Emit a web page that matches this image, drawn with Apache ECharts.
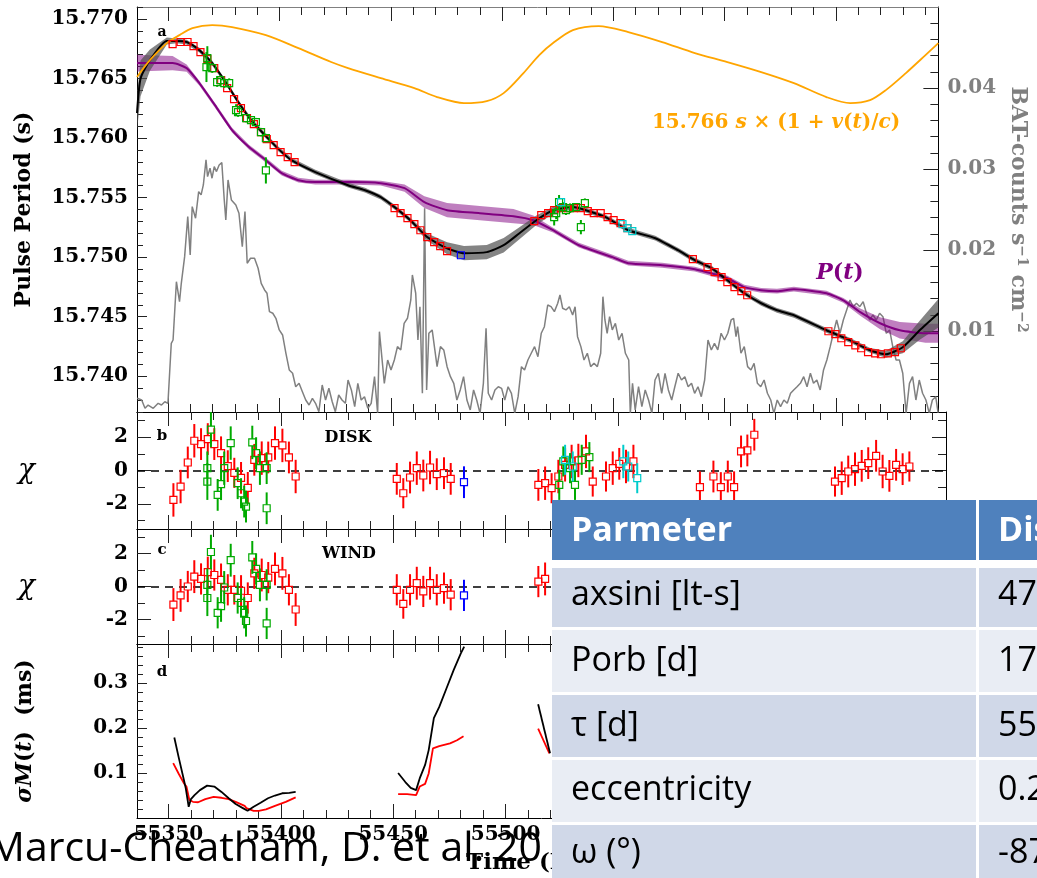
<!DOCTYPE html>
<html>
<head>
<meta charset="utf-8">
<script src="https://cdn.jsdelivr.net/npm/echarts@6/dist/echarts.min.js"></script>
<style>
  html, body { margin: 0; padding: 0; background: #fff; }
  #chart { width: 1037px; height: 878px; }
</style>
</head>
<body>
<div id="chart"></div>
<script>
// ---- tick labels ----
const timeLabels = [55350, 55400, 55450, 55500, 55550, 55600, 55650];
const periodLabels = [15.740, 15.745, 15.750, 15.755, 15.760, 15.765, 15.770];
const batLabels = [0.01, 0.02, 0.03, 0.04];
const chiLabels = [-2, 0, 2];
const sigmaLabels = [0.1, 0.2, 0.3];

// ---- panel a: pulse period (MJD, s) ----
const dopplerCurve = [[55336,15.76512],[55341.8,15.76654],[55349.4,15.76797],[55355.1,15.76864],[55360.9,15.76923],[55369.8,15.76948],[55378.7,15.76932],[55393.9,15.76864],[55408.5,15.76755],[55423.2,15.76638],[55430.8,15.76587],[55445.5,15.76503],[55460.6,15.76419],[55470.8,15.76344],[55482.9,15.76293],[55493.1,15.7631],[55500.7,15.76377],[55509.6,15.76545],[55516.7,15.76696],[55522.9,15.76797],[55531.8,15.76906],[55543.4,15.7694],[55556.7,15.7689],[55571.9,15.76806],[55586.6,15.76713],[55601.2,15.76638],[55616.4,15.76554],[55631.1,15.76461],[55645.7,15.76344],[55656.4,15.76293],[55665.3,15.76318],[55672.4,15.76402],[55681.4,15.76545],[55690.2,15.76696],[55696,15.76797]];

// [MJD, period, band half-width]
const intrinsicPeriod = [[55336,15.76629,0.0007],[55352,15.76629,0.0006],[55358.3,15.76587,0.0003],[55364,15.76461,0.0002],[55371.6,15.7626,0.0002],[55378.7,15.76066,0.0002],[55386.3,15.75924,0.0002],[55393.9,15.75814,0.0002],[55401,15.75705,0.0002],[55408.5,15.75646,0.0002],[55416.1,15.7563,0.0002],[55430.8,15.7563,0.0002],[55445.5,15.75621,0.0002],[55456.2,15.75579,0.0003],[55465.1,15.75462,0.0005],[55475.3,15.75394,0.0006],[55490,15.75369,0.0006],[55505.1,15.75344,0.0006],[55514,15.7531,0.0004],[55522.9,15.75226,0.0002],[55534.5,15.751,0.0002],[55549.6,15.75,0.0002],[55556.7,15.74949,0.0002],[55571.9,15.74932,0.0002],[55586.6,15.74899,0.0002],[55601.2,15.74823,0.0002],[55608.8,15.74748,0.0002],[55616.4,15.74722,0.0002],[55623.5,15.74714,0.0002],[55631.1,15.74731,0.0002],[55645.7,15.74697,0.0002],[55653.3,15.74638,0.0002],[55660.9,15.74538,0.0003],[55669.8,15.74445,0.0005],[55678.7,15.74386,0.0007],[55690.2,15.74361,0.0008],[55696,15.74361,0.0008]];

const observedModel = [[55336,15.7621,0.0015],[55337.6,15.765,0.0015],[55341.8,15.76654,0.0009],[55349.4,15.76815,0.0003],[55353.8,15.76815,0.0002],[55358.3,15.76806,0.0002],[55364,15.76738,0.0002],[55369.8,15.76629,0.0002],[55376.1,15.76461,0.0002],[55381.8,15.76293,0.0002],[55387.6,15.76142,0.0002],[55393.9,15.76016,0.0002],[55399.6,15.75907,0.0002],[55405.4,15.75814,0.0002],[55416.1,15.75714,0.0002],[55430.8,15.75604,0.0002],[55438.4,15.75562,0.0002],[55445.5,15.75504,0.0002],[55451.7,15.7542,0.0002],[55458.8,15.7531,0.0002],[55466.4,15.75168,0.0003],[55475.3,15.75075,0.0005],[55482.9,15.75033,0.0006],[55493.1,15.75042,0.0006],[55500.7,15.751,0.0006],[55507.8,15.75201,0.0005],[55515.4,15.7531,0.0004],[55522.9,15.75394,0.0003],[55531.8,15.7542,0.0002],[55537.6,15.75394,0.0002],[55546.5,15.75336,0.0002],[55556.7,15.75226,0.0002],[55568.8,15.75159,0.0002],[55579,15.75058,0.0002],[55586.6,15.74974,0.0002],[55594.1,15.74907,0.0002],[55601.2,15.74806,0.0002],[55608.8,15.74697,0.0002],[55616.4,15.74613,0.0002],[55623.5,15.74554,0.0002],[55631.1,15.74512,0.0002],[55645.7,15.74386,0.0002],[55656.4,15.74302,0.0002],[55665.3,15.74218,0.0002],[55672.4,15.74185,0.0003],[55680,15.74244,0.0005],[55687.6,15.74386,0.0008],[55696,15.74529,0.0012]];

const periodRed = [[55352.0,15.76789],[55355.6,15.76806],[55358.7,15.76806],[55361.4,15.76772],[55364.5,15.76722],[55367.6,15.76663],[55370.7,15.76587],[55373.8,15.76486],[55376.5,15.76419],[55379.6,15.76327],[55382.7,15.76251],[55385.4,15.76167],[55388.5,15.76117],[55391.7,15.7605],[55394.3,15.75991],[55397.4,15.7594],[55400.5,15.75882],[55403.7,15.7584],[55406.8,15.75798],[55451.7,15.75411],[55454.4,15.75369],[55457.5,15.75327],[55460.6,15.75277],[55463.3,15.75226],[55466.4,15.75168],[55469.5,15.75126],[55472.2,15.75092],[55475.3,15.7505],[55514.5,15.75302],[55517.6,15.75352],[55520.7,15.75369],[55523.4,15.75394],[55526.5,15.75411],[55529.6,15.75411],[55532.3,15.75411],[55535.4,15.75411],[55538.5,15.75386],[55541.2,15.75369],[55544.3,15.75369],[55547.4,15.75336],[55550.1,15.7531],[55553.2,15.75285],[55556.3,15.75243],[55585.7,15.74983],[55592.3,15.74916],[55595.5,15.74874],[55598.6,15.74832],[55601.2,15.7479],[55604.4,15.74748],[55607.5,15.74714],[55610.1,15.7468],[55646.6,15.74378],[55649.7,15.74353],[55652.4,15.74319],[55655.5,15.74286],[55658.7,15.7426],[55661.3,15.74235],[55664.4,15.74202],[55667.6,15.74193],[55670.2,15.74185],[55673.3,15.74193],[55676.5,15.74202],[55679.1,15.74235]];
const periodGreen = [[55367.6,15.76671,0.001],[55367.2,15.76596,0.00126],[55369.8,15.76587,0.0004],[55372.0,15.7647,0.0004],[55373.4,15.76486,0.0004],[55375.2,15.76461,0.0004],[55377.4,15.76461,0.0004],[55380.5,15.76234,0.0005],[55381.4,15.76218,0.0004],[55385.0,15.76167,0.00035],[55387.2,15.7615,0.00035],[55389.4,15.76134,0.00035],[55391.7,15.7605,0.00035],[55393.9,15.76,0.00035],[55393.9,15.75728,0.0011],[55523.4,15.75336,0.0007],[55524.3,15.75369,0.0005],[55525.6,15.75462,0.0006],[55527.4,15.7542,0.0004],[55528.7,15.75394,0.0004],[55530.5,15.75411,0.0004],[55533.2,15.7542,0.0003],[55535.4,15.75252,0.0006],[55537.2,15.75453,0.0004]];
const periodCyan = [[55526.5,15.75462,0.0003],[55554.1,15.75277,0.0001],[55556.3,15.75243,0.0001],[55558.5,15.75218,0.0001]];
const periodBlue = [[55481.5,15.75016,0.0001]];

// Swift/BAT light curve [MJD, counts s^-1 cm^-2]
const batCounts = [[55336.1,.00169],[55338.1,.00148],[55339.6,.00046],[55341.0,.00086],[55343.3,.00046],[55345.5,.00107],[55347.0,.00086],[55348.5,.00127],[55349.9,.00107],[55351.4,.00848],[55352.2,.00889],[55353.7,.01609],[55355.1,.01362],[55355.9,.01589],[55357.4,.01918],[55358.8,.02412],[55359.9,.01939],[55360.8,.02536],[55362.3,.02392],[55363.7,.02721],[55364.8,.0268],[55365.8,.02803],[55367.0,.03112],[55367.7,.02906],[55368.8,.0301],[55369.7,.02886],[55370.7,.0303],[55371.7,.02968],[55372.9,.0305],[55374.1,.03079],[55375.2,.02618],[55375.9,.02371],[55376.9,.02865],[55378.4,.02618],[55380.4,.02556],[55381.8,.02454],[55383.3,.02041],[55384.5,.02474],[55385.5,.01836],[55387.0,.01898],[55388.8,.01898],[55390.4,.01775],[55391.8,.01589],[55393.3,.01507],[55394.4,.01466],[55395.5,.01239],[55397.0,.01219],[55398.4,.01157],[55399.9,.01013],[55401.4,.00951],[55402.9,.00725],[55404.4,.00519],[55405.9,.00478],[55407.3,.00312],[55408.8,.00354],[55410.3,.00251],[55411.8,.00148],[55413.3,.00086],[55414.8,.00169],[55416.2,.00107],[55417.7,.00004],[55419.2,.00333],[55420.7,.00148],[55422.2,.00293],[55423.7,.00127],[55425.1,.00004],[55426.6,.0021],[55428.1,.00148],[55429.6,.00107],
[55430.8,.00395],[55432.3,.00272],[55433.8,.00066],[55435.2,.00354],[55436.7,.00148],[55438.2,.00189],[55439.7,.00046],[55441.2,.00107],[55442.7,.00436],[55444.1,-.00016],[55444.9,.00992],[55446.4,.0056],[55447.1,.00354],[55448.6,.00642],[55450.1,.00519],[55451.6,.00642],[55453.0,.00807],[55454.5,.00766],[55456.0,.01095],[55457.5,.01157],[55459.0,.01383],[55459.7,.01692],[55461.2,.01466],[55462.2,.00889],[55463.1,.013],[55464.2,.00231],[55465.2,.02515],[55466.1,.00272],[55467.1,.00972],[55468.6,.01013],[55469.6,.00807],[55470.8,.0056],[55472.3,.00807],[55473.8,.00766],[55475.3,.0056],[55476.8,.00436],[55478.3,.00354],[55479.7,.00148],[55481.2,.00272],[55482.7,.00436],[55484.2,.00148],[55485.7,.00025],[55487.2,.00272],[55488.6,.00148],[55490.1,-.00016],[55491.6,.00354],[55492.8,.01034],[55493.8,.00231],[55495.3,.00148],[55496.8,.00272],[55498.3,.00312],[55499.8,.00292],[55501.2,.00148],[55502.7,.00312],[55504.2,.00231],[55505.7,-.00016],[55507.2,.00189],[55508.7,.0056],[55510.1,.00519],[55511.6,.00642],[55513.1,.00725],[55514.6,.00807],[55516.1,.00683],[55517.6,.00972],[55519.0,.01053],[55520.5,.01321],[55522.0,.013],[55523.5,.01239],[55525.0,.01342],[55526.0,.01445],[55527.2,.01281],[55528.7,.0126],[55530.2,.013],[55531.7,.01198],[55532.8,.013],[55533.9,.0093],[55535.4,.00807],[55536.8,.00642],[55538.3,.00725],[55539.8,.0056],[55541.3,.00601],[55542.8,.0056],[55544.3,.00725],[55545.3,.01424],[55546.2,.01136],[55547.2,.00972],[55548.3,.01177],[55549.5,.01013],[55550.9,.01095],[55552.4,.00889],[55553.9,.00972],[55555.4,.00725],[55556.9,.00642],[55557.6,-.00016],[55558.6,.00354],[55559.8,.00025],[55561.3,.00312],[55562.8,.00066],[55564.3,.00272],[55565.8,.00148],[55567.3,-.00016],[55568.7,.00395],[55570.2,.00478],[55571.7,.00231],[55573.2,.00478],[55574.7,.00272],[55576.2,.00148],[55577.6,.00312],[55579.1,.00478],[55580.6,.00395],[55582.1,.00436],[55583.6,.00312],[55585.1,.00354],
[55586.5,.00231],[55588.0,.00312],[55589.5,.00189],[55591.0,.00395],[55592.5,.00889],[55594.0,.00766],[55595.4,.00848],[55596.9,.00766],[55598.4,.00972],[55599.9,.00889],[55601.4,.00972],[55602.9,.01136],[55604.0,.01157],[55605.1,.0093],[55605.8,.01053],[55607.3,.00725],[55608.8,.00807],[55610.3,.0056],[55611.8,.00519],[55613.2,.00601],[55614.7,.00354],[55616.2,.00312],[55617.7,.00395],[55619.2,.00231],[55620.7,.00148],[55622.1,-.00016],[55623.6,.00148],[55625.1,.00066],[55626.6,.00148],[55628.1,.00107],[55629.6,.00231],[55631.0,.00272],[55632.5,.00312],[55634.0,.00354],[55635.5,.00436],[55637.0,.00312],[55638.5,.00478],[55639.9,.00354],[55641.4,.00395],[55642.9,.00272],[55644.4,.00519],[55645.9,.00642],[55647.4,.00807],[55648.8,.00972],[55650.3,.01136],[55651.8,.00972],[55653.3,.01136],[55654.8,.0126],[55656.3,.01383],[55657.7,.013],[55659.2,.01342],[55660.7,.013],[55662.2,.01362],[55663.7,.01219],[55665.2,.01136],[55666.6,.01198],[55668.1,.01136],[55669.6,.01219],[55671.1,.01177],[55672.6,.00972],[55674.1,.01013],[55675.5,.00807],[55677.0,.00642],[55678.5,.00642],[55680.0,.00478],[55681.5,-.00016],[55683.0,.00354],[55684.4,.00436],[55685.9,.00148],[55687.4,.00395],[55688.9,.00231],[55690.4,.00148],[55691.9,-.00016],[55693.3,.00148],[55694.8,.00189],[55695.9,-.00016]];

// ---- panel b: residuals, disk model [MJD, chi, error] ----
const diskRed = [[55352.2,-1.76,1.0],[55355.4,-0.96,1.0],[55358.6,0.48,0.95],[55361.5,1.78,1.0],[55364.5,1.58,0.95],[55367.5,1.88,0.95],[55370.4,1.58,0.95],[55373.4,1.04,1.0],[55376.4,0.26,0.95],[55379.3,-0.14,0.9],[55382.3,-0.44,0.95],[55385.3,-1.04,0.95],[55388.2,0.64,0.95],[55391.5,0.74,1.0],[55394.4,0.78,0.95],[55397.4,1.64,1.0],[55400.7,1.5,1.0],[55403.6,0.78,0.95],[55406.6,-0.36,1.0],[55451.6,-0.5,0.95],[55454.5,-1.36,0.9],[55457.5,-0.42,0.95],[55460.5,0.14,1.0],[55463.4,-0.3,0.95],[55466.4,0.18,1.0],[55469.4,-0.22,0.95],[55472.6,-0.16,0.95],[55475.6,-0.5,0.95],[55514.6,-0.86,0.95],[55517.6,-0.76,1.0],[55520.5,-1.06,0.9],[55523.5,-0.36,1.0],[55526.5,0.34,1.0],[55529.4,0.54,1.0],[55532.4,0.6,1.0],[55535.8,1.14,1.0],[55538.8,-0.66,0.9],[55544.7,-0.36,0.9],[55547.7,0.14,1.0],[55550.6,0.4,0.95],[55553.6,0.24,1.0],[55556.9,0.54,1.0],[55586.5,-1.0,0.95],[55592.5,-0.36,0.95],[55595.8,-1.0,0.9],[55598.9,-0.36,0.95],[55601.7,-1.0,0.95],[55604.8,1.14,0.95],[55607.6,1.2,0.95],[55610.7,2.14,0.95],[55646.6,-0.66,0.9],[55649.6,-0.46,1.0],[55652.5,-0.06,0.95],[55655.5,0.08,1.0],[55658.5,0.28,0.95],[55661.4,0.44,0.95],[55664.9,0.88,0.95],[55667.8,-0.06,1.0],[55670.8,-0.32,0.95],[55673.8,0.34,0.95],[55676.7,0.08,0.95],[55679.7,0.24,0.9]];
const diskGreen = [[55367.3,0.14,1.0],[55367.3,-0.66,1.1],[55368.9,2.44,1.05],[55371.9,-1.46,0.95],[55373.4,-0.82,0.95],[55374.8,0.14,1.0],[55377.7,1.64,1.0],[55380.8,-0.76,0.95],[55382.3,-1.36,0.9],[55383.7,-1.86,0.95],[55384.5,-2.16,0.95],[55387.3,1.68,1.0],[55389.0,1.04,0.95],[55390.7,0.14,1.0],[55393.7,0.14,0.95],[55393.7,-2.26,0.95],[55523.9,-0.86,0.9],[55525.7,0.54,0.9],[55528.7,0.14,0.9],[55530.9,-0.86,0.9],[55533.9,0.64,0.9],[55537.3,0.8,0.9]];
const diskCyan = [[55526.5,0.64,0.9],[55529.9,0.24,0.9],[55552.4,0.54,1.0],[55554.6,0.24,0.9],[55558.6,-0.46,0.9]];
const diskBlue = [[55481.5,-0.7,0.95]];

// ---- panel c: residuals, wind model ----
const windRed = [[55352.2,-1.1,1.0],[55355.4,-0.54,1.0],[55358.6,0,0.95],[55361.5,0.6,1.0],[55364.5,0.46,0.95],[55367.5,0.87,0.95],[55370.4,0.7,0.95],[55373.4,0.4,1.0],[55376.4,-0.2,0.95],[55379.3,-0.2,0.9],[55382.3,-0.26,0.95],[55385.3,-0.7,0.95],[55388.2,0.8,0.95],[55391.5,0.7,1.0],[55394.4,0.54,0.95],[55397.4,1.07,1.0],[55400.7,0.8,1.0],[55403.6,-0.2,0.95],[55406.6,-1.4,1.0],[55451.6,-0.2,0.95],[55454.5,-1.06,0.9],[55457.5,-0.2,0.95],[55460.5,0.2,1.0],[55463.4,-0.3,0.95],[55466.4,0.2,1.0],[55469.4,-0.2,0.95],[55472.6,-0.1,0.95],[55475.6,-0.5,0.95],[55514.6,0.3,0.95],[55517.6,0.46,1.0]];
const windGreen = [[55367.3,0.1,1.0],[55367.3,-0.7,1.1],[55368.9,2.1,1.05],[55371.9,-1.6,0.95],[55373.4,-1.2,0.95],[55374.8,-0.06,1.0],[55377.7,1.6,1.0],[55380.8,-0.7,0.95],[55382.3,-1.0,0.9],[55383.7,-1.6,0.95],[55384.5,-2.1,0.95],[55387.3,1.77,1.0],[55389.0,1.07,0.95],[55390.7,0.1,1.0],[55393.7,0.1,0.95],[55393.7,-2.25,0.95]];
const windBlue = [[55481.5,-0.54,0.95]];

// ---- panel d: sigma M(t) in ms ----
const sigmaBlack = [
  [[55352.6,0.179],[55354.5,0.136],[55356.9,0.084],[55357.7,0.066],[55359.0,0.025],[55360.0,0.042],[55361.6,0.051],[55364.0,0.062],[55367.2,0.072],[55370.4,0.07],[55373.6,0.058],[55376.8,0.044],[55379.9,0.031],[55383.1,0.022],[55385.2,0.016],[55387.9,0.025],[55391.0,0.034],[55394.3,0.044],[55397.4,0.05],[55400.6,0.055],[55403.8,0.056],[55406.6,0.058]],
  [[55452.2,0.1],[55455.4,0.08],[55457.8,0.067],[55460.2,0.062],[55461.8,0.088],[55464.2,0.118],[55465.8,0.151],[55468.1,0.222],[55470.5,0.247],[55473.7,0.288],[55476.9,0.329],[55480.1,0.366],[55481.6,0.381]],
  [[55514.5,0.253],[55519.8,0.144]]
];
const sigmaRed = [
  [[55352.1,0.122],[55354.5,0.099],[55356.9,0.077],[55358.0,0.07],[55359.3,0.04],[55360.9,0.036],[55363.2,0.035],[55366.4,0.042],[55370.1,0.047],[55373.6,0.045],[55376.8,0.042],[55379.9,0.036],[55383.9,0.027],[55384.7,0.022],[55387.9,0.016],[55390.2,0.016],[55393.4,0.019],[55397.4,0.027],[55402.2,0.036],[55406.6,0.046]],
  [[55452.2,0.053],[55456.2,0.053],[55460.2,0.051],[55461.8,0.07],[55464.2,0.076],[55465.8,0.099],[55467.7,0.155],[55470.5,0.16],[55475.3,0.166],[55478.4,0.173],[55481.3,0.182]],
  [[55514.5,0.199],[55519.5,0.144]]
];

// ---- table ----
const tableHeader = ['Parmeter', 'Disk'];
const tableParams = ['axsini [lt-s]', 'Porb [d]', 'τ [d]', 'eccentricity', 'ω (°)'];
const tableDisk = ['47', '17', '55', '0.2', '-87'];

// ---------------------------------------------------------------
const SERIF = "'DejaVu Serif', serif";
const SANS = "'Open Sans', sans-serif";
const X_MIN = 55336, X_MAX = 55696;
const GRID_TOPS = [7, 412, 529, 644];
const GRID_HEIGHTS = [405, 117, 115, 174];

function steps(from, to, step, skip) {
  const out = [];
  const n = Math.round((to - from) / step);
  for (let i = 0; i <= n; i++) {
    const v = +(from + i * step).toFixed(6);
    if (!skip || Math.abs(v / skip - Math.round(v / skip)) > 1e-6) out.push(v);
  }
  return out;
}
const timeMinor = steps(55360, 55690, 10, 50);
const periodMinor = steps(15.737, 15.771, 0.001, 0.005);
const batMinor = steps(0.002, 0.048, 0.002, 0.01);
const chiMinor = [-3, -1, 1, 3];
const sigmaMinor = steps(0.02, 0.38, 0.02, 0.1);

const labelFont = { fontFamily: SERIF, fontWeight: 'bold', fontSize: 20, color: '#000' };

function tickStyle(values, len) {
  return { show: true, inside: true, length: len, customValues: values, lineStyle: { color: '#222', width: 1 } };
}
function axisBase(extra) {
  return Object.assign({
    type: 'value',
    axisLine: { show: false, onZero: false },
    splitLine: { show: false },
    axisLabel: { show: false },
    axisTick: { show: false }
  }, extra);
}

const xAxes = [], yAxes = [];
GRID_TOPS.forEach(function (top, gi) {
  const last = gi === GRID_TOPS.length - 1;
  const main = axisBase({
    gridIndex: gi, position: 'bottom', min: X_MIN, max: X_MAX,
    axisLine: { show: true, onZero: false, lineStyle: { color: '#000', width: 1 } },
    axisTick: tickStyle(timeLabels, 14),
    axisLabel: last ? Object.assign({
      show: true, customValues: timeLabels, margin: 7,
      formatter: function (v) { return String(v); }
    }, labelFont) : { show: false }
  });
  if (last) {
    main.name = 'Time (MJD)';
    main.nameLocation = 'middle';
    main.nameGap = 34;
    main.nameTextStyle = { fontFamily: SERIF, fontWeight: 'bold', fontSize: 23, color: '#000' };
  }
  xAxes.push(main);
  xAxes.push(axisBase({
    gridIndex: gi, position: 'top', min: X_MIN, max: X_MAX,
    axisLine: { show: true, onZero: false, lineStyle: { color: gi === 0 ? '#808080' : '#000', width: 1 } },
    axisTick: tickStyle(timeLabels, 14)
  }));
  xAxes.push(axisBase({ gridIndex: gi, position: 'bottom', min: X_MIN, max: X_MAX, axisTick: tickStyle(timeMinor, 8) }));
  xAxes.push(axisBase({ gridIndex: gi, position: 'top', min: X_MIN, max: X_MAX, axisTick: tickStyle(timeMinor, 8) }));
});

function addY(gi, side, min, max, major, minor, lens, opts) {
  opts = opts || {};
  const ax = axisBase({
    gridIndex: gi, position: side, min: min, max: max,
    axisLine: { show: true, onZero: false, lineStyle: { color: '#000', width: 1 } },
    axisTick: tickStyle(major, lens[0]),
    axisLabel: opts.label ? Object.assign({ show: true, customValues: major, margin: 9 }, labelFont, opts.label) : { show: false }
  });
  if (opts.name) {
    ax.name = opts.name;
    ax.nameLocation = 'middle';
    ax.nameGap = opts.nameGap;
    if (opts.nameRotate !== undefined) ax.nameRotate = opts.nameRotate;
    ax.nameTextStyle = opts.nameTextStyle;
  }
  yAxes.push(ax);
  yAxes.push(axisBase({ gridIndex: gi, position: side, min: min, max: max, axisTick: tickStyle(minor, lens[1]) }));
}

const boldName = { fontFamily: SERIF, fontWeight: 'bold', fontSize: 22, color: '#000' };
// grid a
addY(0, 'left', 15.737, 15.771, periodLabels, periodMinor, [10, 6], {
  label: { formatter: function (v) { return v.toFixed(3); } },
  name: 'Pulse Period (s)', nameGap: 102, nameTextStyle: boldName
});
addY(0, 'right', 0, 0.05, batLabels, batMinor, [15, 8], {
  label: { color: '#808080', formatter: function (v) { return v.toFixed(2); } },
  name: 'BAT-counts s{sup|−1} cm{sup|−2}', nameGap: 66, nameRotate: -90,
  nameTextStyle: {
    fontFamily: SERIF, fontWeight: 'bold', fontSize: 22, color: '#808080',
    rich: { sup: { fontFamily: SERIF, fontWeight: 'bold', fontSize: 14, color: '#808080', verticalAlign: 'top', lineHeight: 22 } }
  }
});
// grids b and c
[1, 2].forEach(function (gi) {
  addY(gi, 'left', -3.5, 3.5, chiLabels, chiMinor, [14, 8], {
    label: { formatter: function (v) { return String(v); } },
    name: 'χ', nameGap: 102, nameRotate: 0,
    nameTextStyle: { fontFamily: SERIF, fontStyle: 'italic', fontSize: 28, color: '#000' }
  });
  addY(gi, 'right', -3.5, 3.5, chiLabels, chiMinor, [14, 8]);
});
// grid d
const nameRich = {
  i: { fontFamily: SERIF, fontWeight: 'bold', fontStyle: 'italic', fontSize: 22, color: '#000' },
  n: { fontFamily: SERIF, fontWeight: 'bold', fontSize: 22, color: '#000' }
};
addY(3, 'left', 0, 0.387, sigmaLabels, sigmaMinor, [10, 6], {
  label: { formatter: function (v) { return v.toFixed(1); } },
  name: '{i|σM}{n|(}{i|t}{n|)  (ms)}', nameGap: 101,
  nameTextStyle: { fontFamily: SERIF, fontWeight: 'bold', fontSize: 22, color: '#000', rich: nameRich }
});
addY(3, 'right', 0, 0.387, sigmaLabels, sigmaMinor, [10, 6]);

// ---- renderers ----
function errorBars(color) {
  return function (params, api) {
    const t = api.value(0), v = api.value(1), e = api.value(2);
    const c = api.coord([t, v]);
    const h = 3.5;
    const kids = [];
    if (e > 0) {
      const hi = api.coord([t, v + e])[1];
      const lo = api.coord([t, v - e])[1];
      if (c[1] - h > hi) kids.push({ type: 'line', shape: { x1: c[0], y1: hi, x2: c[0], y2: c[1] - h }, style: { stroke: color, lineWidth: 2 } });
      if (lo > c[1] + h) kids.push({ type: 'line', shape: { x1: c[0], y1: c[1] + h, x2: c[0], y2: lo }, style: { stroke: color, lineWidth: 2 } });
    }
    kids.push({ type: 'rect', shape: { x: c[0] - h, y: c[1] - h, width: 2 * h, height: 2 * h }, style: { fill: 'none', stroke: color, lineWidth: 1.2 } });
    return { type: 'group', children: kids };
  };
}
function band(points, color) {
  return function (params, api) {
    if (params.dataIndex !== 0) return null;
    const up = points.map(function (p) { return api.coord([p[0], p[1] + p[2]]); });
    const down = points.map(function (p) { return api.coord([p[0], p[1] - p[2]]); }).reverse();
    return { type: 'polygon', shape: { points: up.concat(down) }, style: { fill: color } };
  };
}
function points(gi, data, color, extra) {
  return Object.assign({
    type: 'custom', xAxisIndex: 4 * gi, yAxisIndex: 4 * gi, clip: true, z: 5,
    renderItem: errorBars(color), data: data
  }, extra || {});
}
function curve(gi, data, color, width, z, smooth) {
  return {
    type: 'line', xAxisIndex: 4 * gi, yAxisIndex: 4 * gi, data: data, showSymbol: false,
    smooth: smooth || false, clip: true, z: z, encode: { x: 0, y: 1 },
    lineStyle: { color: color, width: width }
  };
}

const series = [
  {
    type: 'line', xAxisIndex: 0, yAxisIndex: 2, data: batCounts, showSymbol: false, clip: true, z: 1,
    lineStyle: { color: '#808080', width: 1.5 }
  },
  { type: 'custom', xAxisIndex: 0, yAxisIndex: 0, clip: true, z: 2, data: intrinsicPeriod, renderItem: band(intrinsicPeriod, 'rgba(128,0,128,0.5)') },
  { type: 'custom', xAxisIndex: 0, yAxisIndex: 0, clip: true, z: 2, data: observedModel, renderItem: band(observedModel, 'rgba(80,80,80,0.7)') },
  curve(0, intrinsicPeriod, '#800080', 2, 3, 0.2),
  curve(0, observedModel, '#000', 2, 3, 0.2),
  curve(0, dopplerCurve, '#FFA500', 1.8, 3, 0.3),
  points(0, periodRed, '#FF0000'),
  points(0, periodGreen, '#00AA00'),
  points(0, periodCyan, '#00CCCC'),
  points(0, periodBlue, '#0000FF'),

  points(1, diskRed, '#FF0000', {
    markLine: { silent: true, symbol: 'none', label: { show: false }, lineStyle: { type: [8, 6], color: '#000', width: 1.5 }, data: [{ yAxis: 0 }] }
  }),
  points(1, diskGreen, '#00AA00'),
  points(1, diskCyan, '#00CCCC'),
  points(1, diskBlue, '#0000FF'),

  points(2, windRed, '#FF0000', {
    markLine: { silent: true, symbol: 'none', label: { show: false }, lineStyle: { type: [8, 6], color: '#000', width: 1.5 }, data: [{ yAxis: 0 }] }
  }),
  points(2, windGreen, '#00AA00'),
  points(2, windBlue, '#0000FF')
];
sigmaRed.forEach(function (seg) { series.push(curve(3, seg, '#FF0000', 1.8, 3)); });
sigmaBlack.forEach(function (seg) { series.push(curve(3, seg, '#000', 1.8, 4)); });

// ---- annotations, table, citation ----
function text(str, x, y, style, z) {
  return {
    type: 'text', x: x, y: y, z: z || 10, silent: true,
    style: Object.assign({ text: str, textAlign: 'center', align: 'center', textVerticalAlign: 'middle', verticalAlign: 'middle' }, style)
  };
}
const serifBold = function (size, color) { return { fontFamily: SERIF, fontWeight: 'bold', fontSize: size, fill: color || '#000' }; };
const orange = '#FFA500';
const ital = function (c) { return { fontFamily: SERIF, fontWeight: 'bold', fontStyle: 'italic', fontSize: 20, fill: c }; };
const upr = function (c) { return { fontFamily: SERIF, fontWeight: 'bold', fontSize: 20, fill: c }; };

const elements = [
  text('a', 162, 32, serifBold(14)),
  text('b', 162, 436, serifBold(15)),
  text('c', 162, 550, serifBold(15)),
  text('d', 162, 672, serifBold(15)),
  text('DISK', 348, 438, serifBold(16)),
  text('WIND', 349, 554, serifBold(16)),
  text('{u|15.766 }{i|s}{u| × (1 + }{i|v}{u|(}{i|t}{u|)/}{i|c}{u|)}', 776, 123,
    Object.assign(serifBold(20, orange), { rich: { u: upr(orange), i: ital(orange) } })),
  text('{i|P}{u|(}{i|t}{u|)}', 840, 273,
    Object.assign(serifBold(22, '#800080'), { rich: {
      u: { fontFamily: SERIF, fontWeight: 'bold', fontSize: 22, fill: '#800080' },
      i: { fontFamily: SERIF, fontWeight: 'bold', fontStyle: 'italic', fontSize: 22, fill: '#800080' } } }))
];

// table
const TBL = { x: 552, col2: 979, right: 1040, headerTop: 500, headerBottom: 560 };
const rowBands = [[568, 627], [630, 692], [695, 757], [760, 822], [825, 890]];
const rowTextY = [595, 661, 726, 790, 853];
const rowFill = ['#D0D8E8', '#E9EDF4', '#D0D8E8', '#E9EDF4', '#D0D8E8'];
elements.push({ type: 'rect', z: 100, silent: true, shape: { x: TBL.x, y: TBL.headerTop, width: 1037 - TBL.x, height: 878 - TBL.headerTop }, style: { fill: '#fff' } });
elements.push({ type: 'rect', z: 101, silent: true, shape: { x: TBL.x, y: TBL.headerTop, width: 976 - TBL.x, height: TBL.headerBottom - TBL.headerTop }, style: { fill: '#4F81BD' } });
elements.push({ type: 'rect', z: 101, silent: true, shape: { x: TBL.col2, y: TBL.headerTop, width: TBL.right - TBL.col2, height: TBL.headerBottom - TBL.headerTop }, style: { fill: '#4F81BD' } });
rowBands.forEach(function (r, i) {
  elements.push({ type: 'rect', z: 101, silent: true, shape: { x: TBL.x, y: r[0], width: 976 - TBL.x, height: r[1] - r[0] }, style: { fill: rowFill[i] } });
  elements.push({ type: 'rect', z: 101, silent: true, shape: { x: TBL.col2, y: r[0], width: TBL.right - TBL.col2, height: r[1] - r[0] }, style: { fill: rowFill[i] } });
});
const headFont = { fontFamily: SANS, fontWeight: 'bold', fontSize: 34, fill: '#fff', textAlign: 'left', align: 'left' };
const cellFont = { fontFamily: SANS, fontSize: 34, fill: '#000', textAlign: 'left', align: 'left' };
elements.push(text(tableHeader[0], 571, 531, headFont, 102));
elements.push(text(tableHeader[1], 998, 531, headFont, 102));
tableParams.forEach(function (p, i) {
  elements.push(text(p, 571, rowTextY[i], cellFont, 102));
  elements.push(text(tableDisk[i], 998, rowTextY[i], cellFont, 102));
});
// citation
elements.push(text('Marcu-Cheatham, D. et al. 20', -12, 849,
  { fontFamily: SANS, fontSize: 41, fill: '#000', textAlign: 'left', align: 'left' }, 102));

const chart = echarts.init(document.getElementById('chart'));
chart.setOption({
  backgroundColor: '#fff',
  animation: false,
  textStyle: { fontFamily: SERIF },
  grid: GRID_TOPS.map(function (top, i) { return { left: 137, width: 809, top: top, height: GRID_HEIGHTS[i], containLabel: false }; }),
  xAxis: xAxes,
  yAxis: yAxes,
  series: series,
  graphic: { elements: elements }
});
window.addEventListener('resize', function () { chart.resize(); });
</script>
</body>
</html>
